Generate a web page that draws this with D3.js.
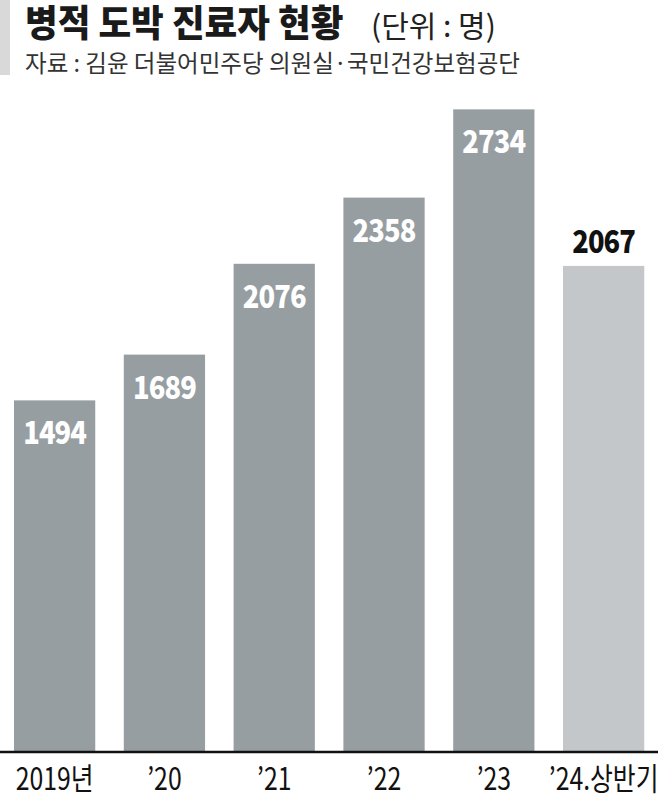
<!DOCTYPE html>
<html>
<head>
<meta charset="utf-8">
<script src="https://cdn.jsdelivr.net/npm/d3@7"></script>
<style>
  body { margin: 0; background: #fff; }
  text { font-family: "Noto Sans CJK KR", "Noto Sans", sans-serif; }
</style>
</head>
<body>
<div id="chart"></div>
<script>
// data
var categories = ["2019년", "'20", "'21", "'22", "'23", "'24.상반기"];
var values = [1494, 1689, 2076, 2358, 2734, 2067];
var partial = [false, false, false, false, false, true];

var svgWidth = 658;
var svgHeight = 799;
var baseY = 751;

var svg = d3.select("#chart")
    .append("svg")
    .attr("width", svgWidth)
    .attr("height", svgHeight);

// header
svg.append("rect")
    .attr("x", 0).attr("y", 0)
    .attr("width", 10).attr("height", 75)
    .attr("fill", "#d9d9d9");

function squeezed(x, y, sx, txt) {
    return svg.append("text")
        .attr("transform", `translate(${x},${y}) scale(${sx},1)`)
        .text(txt);
}

squeezed(25, 37, 0.96, "병적 도박 진료자 현황")
    .attr("font-size", 37)
    .attr("font-weight", 900)
    .attr("fill", "#1a1a1a");

squeezed(371, 37, 1.0, "(단위 : 명)")
    .attr("font-size", 30)
    .attr("fill", "#222");

squeezed(25, 72, 0.98, "자료 : 김윤 더불어민주당 의원실·국민건강보험공단")
    .attr("font-size", 24)
    .attr("fill", "#333");

// scales
var x = d3.scaleBand()
    .domain(categories)
    .range([14 - 0.13 * 109.8, 14 - 0.13 * 109.8 + 6 * 109.8])
    .paddingInner(0.26)
    .paddingOuter(0.13);

var y = d3.scaleLinear()
    .domain([0, 3200])
    .range([baseY, 0]);

// bars
var chartGroup = svg.append("g");

chartGroup.selectAll("rect")
    .data(values)
    .enter()
    .append("rect")
    .attr("x", (d, i) => x(categories[i]))
    .attr("y", d => y(d))
    .attr("width", x.bandwidth())
    .attr("height", d => baseY - y(d))
    .attr("fill", (d, i) => partial[i] ? "#c4c7c9" : "#979ea2");

// value labels
chartGroup.selectAll(".val")
    .data(values)
    .enter()
    .append("text")
    .attr("class", "val")
    .attr("transform", (d, i) => {
        var cx = x(categories[i]) + x.bandwidth() / 2;
        var cy = partial[i] ? y(d) - 13 : y(d) + 44;
        return `translate(${cx},${cy}) scale(0.88,1)`;
    })
    .attr("text-anchor", "middle")
    .attr("font-size", 31)
    .attr("font-weight", 900)
    .attr("letter-spacing", -1)
    .attr("fill", (d, i) => partial[i] ? "#111" : "#fff")
    .text(d => d);

// baseline
svg.append("line")
    .attr("x1", 0).attr("x2", svgWidth)
    .attr("y1", baseY + 1).attr("y2", baseY + 1)
    .attr("stroke", "#111")
    .attr("stroke-width", 2.5);

// category labels
chartGroup.selectAll(".cat")
    .data(categories)
    .enter()
    .append("text")
    .attr("class", "cat")
    .attr("transform", d => `translate(${x(d) + x.bandwidth() / 2},790) scale(0.8,1)`)
    .attr("text-anchor", "middle")
    .attr("font-size", 31)
    .attr("fill", "#111")
    .text(d => d.replace("'", "’"));
</script>
</body>
</html>
